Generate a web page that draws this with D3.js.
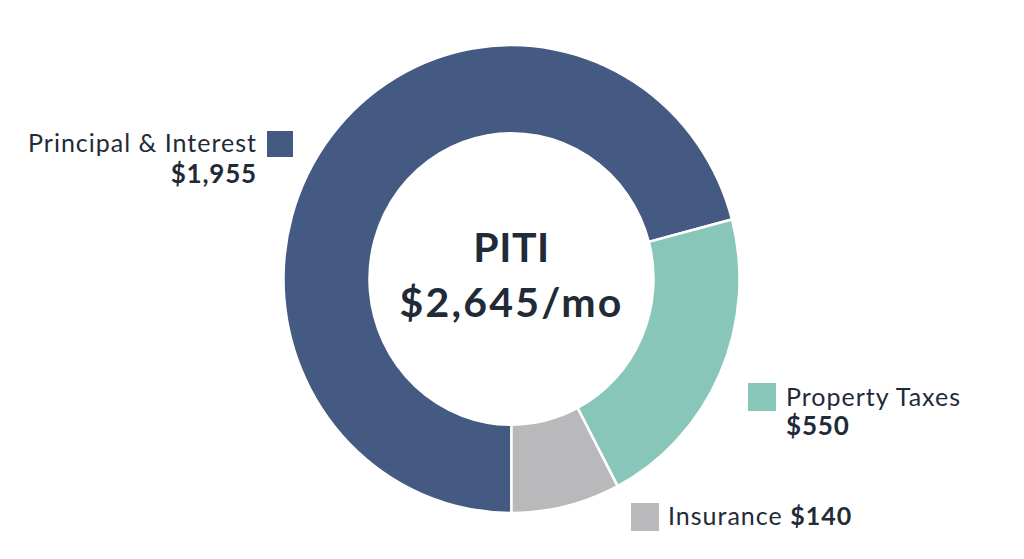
<!DOCTYPE html>
<html>
<head>
<meta charset="utf-8">
<script src="https://cdn.jsdelivr.net/npm/d3@7"></script>
<style>
  html, body { margin: 0; padding: 0; background: #fff; }
  svg { display: block; font-family: Lato, 'Open Sans', sans-serif; }
</style>
</head>
<body>
<div id="wrapper"></div>
<script>
// Data
const categories = ['Principal & Interest', 'Property Taxes', 'Insurance']
const amounts = ['$1,955', '$550', '$140']
// slice sizes as drawn in the picture (percent of the ring)
const sliceShare = [70.9, 21.4, 7.7]
const centerTitle = 'PITI'
const centerValue = '$2,645/mo'
const colors = ['#445a82', '#88c6b9', '#b9b9bb']

const textColor = '#1f2b37'

const dimensions = {
  width: 1024,
  height: 559,
  cx: 511.5,
  cy: 279,
  outerRadius: 228,
  innerRadius: 142,
  stretchY: 1.026,
}

const wrapper = d3
  .select('#wrapper')
  .append('svg')
  .attr('width', dimensions.width)
  .attr('height', dimensions.height)

const data = categories.map((c, i) => ({
  name: c,
  amount: amounts[i],
  share: sliceShare[i],
  color: colors[i],
}))

// ring starts at 6 o'clock and runs clockwise
const pie = d3
  .pie()
  .value((d) => d.share)
  .sort(null)
  .startAngle(Math.PI)
  .endAngle(Math.PI * 3)

const arc = d3
  .arc()
  .innerRadius(dimensions.innerRadius)
  .outerRadius(dimensions.outerRadius)

const ring = wrapper
  .append('g')
  .attr(
    'transform',
    `translate(${dimensions.cx}, ${dimensions.cy}) scale(1, ${dimensions.stretchY})`,
  )

ring
  .selectAll('path')
  .data(pie(data))
  .enter()
  .append('path')
  .attr('d', arc)
  .style('fill', (d) => d.data.color)
  .style('stroke', '#fff')
  .style('stroke-width', 2.5)

// center label
const center = wrapper
  .append('g')
  .attr('transform', `translate(${dimensions.cx}, 0)`)
  .style('fill', textColor)
  .style('font-weight', 700)
  .style('text-anchor', 'middle')

center.append('text').attr('y', 262).style('font-size', '41px').style('letter-spacing', '0.5px').text(centerTitle)
center.append('text').attr('y', 317).style('font-size', '41px').style('letter-spacing', '2.2px').text(centerValue)

// legends
const legendLayout = [
  { sx: 267, sy: 131, size: 26, anchor: 'end', tx: 256, ty: 152, vx: 256, vy: 183, inline: false },
  { sx: 748, sy: 383, size: 28, anchor: 'start', tx: 786, ty: 406, vx: 786, vy: 435, inline: false },
  { sx: 631, sy: 503, size: 28, anchor: 'start', tx: 668, ty: 525, vx: 0, vy: 525, inline: true },
]

const legend = wrapper
  .append('g')
  .selectAll('g')
  .data(data)
  .enter()
  .append('g')

legend
  .append('rect')
  .attr('x', (d, i) => legendLayout[i].sx)
  .attr('y', (d, i) => legendLayout[i].sy)
  .attr('width', (d, i) => legendLayout[i].size)
  .attr('height', (d, i) => legendLayout[i].size)
  .style('fill', (d) => d.color)

legend.each(function (d, i) {
  const l = legendLayout[i]
  const g = d3.select(this)
  if (l.inline) {
    const t = g
      .append('text')
      .attr('x', l.tx)
      .attr('y', l.ty)
      .style('fill', textColor)
      .style('font-size', '25px')
      .style('letter-spacing', '1px')
    t.append('tspan').text(d.name + ' ')
    t.append('tspan').style('font-weight', 700).text(d.amount)
  } else {
    g.append('text')
      .attr('x', l.tx)
      .attr('y', l.ty)
      .attr('dx', l.anchor === 'end' ? 1 : 0)
      .style('text-anchor', l.anchor)
      .style('fill', textColor)
      .style('font-size', '25px')
      .style('letter-spacing', '1px')
      .text(d.name)
    g.append('text')
      .attr('x', l.vx)
      .attr('y', l.vy)
      .attr('dx', l.anchor === 'end' ? 1 : 0)
      .style('text-anchor', l.anchor)
      .style('fill', textColor)
      .style('font-size', '26px')
      .style('font-weight', 700)
      .style('letter-spacing', '0.8px')
      .text(d.amount)
  }
})
</script>
</body>
</html>
